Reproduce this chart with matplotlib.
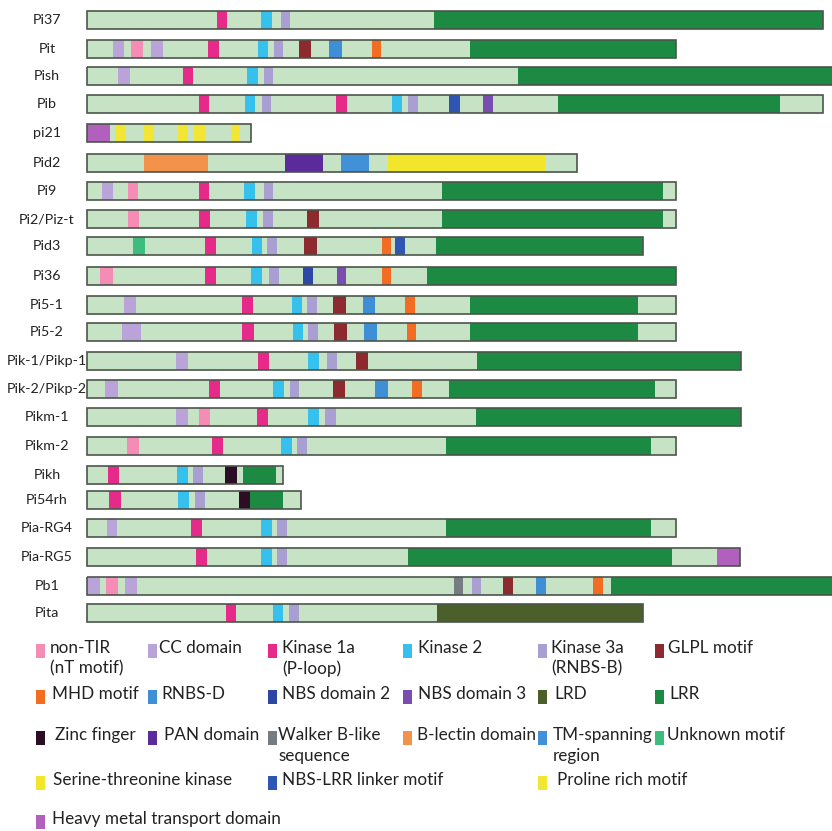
import matplotlib.pyplot as plt
from matplotlib.patches import Rectangle

plt.rcParams['font.family'] = ['Lato', 'DejaVu Sans']

# domain colours
colors = {
    "nT": "#f48cb6", "CC": "#b9a3d8", "K1a": "#e62a8a", "K2": "#36c0ee",
    "K3a": "#a99fd3", "GLPL": "#8c2a30", "MHD": "#f26c22", "RNBSD": "#3f8fd6",
    "NBS2": "#2c47a6", "NBS3": "#7a4db0", "LRD": "#4b5f2b", "LRR": "#1d8a44",
    "ZF": "#2b0d24", "PAN": "#5b2a9b", "WB": "#767d82", "BL": "#f3924a",
    "TM": "#4190d8", "UNK": "#3dbd7d", "STK": "#f2e62c", "LINK": "#2f56b2",
    "PRO": "#f2e533", "HM": "#b160bd",
}

names = ["Pi37", "Pit", "Pish", "Pib", "pi21", "Pid2", "Pi9", "Pi2/Piz-t", "Pid3",
         "Pi36", "Pi5-1", "Pi5-2", "Pik-1/Pikp-1", "Pik-2/Pikp-2", "Pikm-1", "Pikm-2",
         "Pikh", "Pi54rh", "Pia-RG4", "Pia-RG5", "Pb1", "Pita"]
lengths = [823, 676, 845, 823, 251, 577, 676, 676, 643, 676, 676, 676, 741, 676,
           741, 676, 283, 301, 676, 740, 845, 643]
rows_y = [20, 49, 76, 104, 133, 163, 191, 219, 246, 276, 305, 332, 361, 389, 417,
          446, 475, 500, 528, 557, 586, 613]

# (domain, start, end) per protein
features = [
    [("K1a", 217, 227), ("K2", 261, 272), ("K3a", 281, 290), ("LRR", 434, 823)],
    [("CC", 113, 124), ("nT", 131, 143), ("CC", 151, 163), ("K1a", 208, 219),
     ("K2", 258, 268), ("K3a", 274, 283), ("GLPL", 299, 311), ("RNBSD", 329, 342),
     ("MHD", 372, 381), ("LRR", 470, 676)],
    [("CC", 118, 130), ("K1a", 183, 193), ("K2", 247, 258), ("K3a", 264, 273),
     ("LRR", 518, 845)],
    [("K1a", 199, 209), ("K2", 245, 255), ("K3a", 262, 271), ("K1a", 336, 347),
     ("K2", 392, 402), ("K3a", 408, 418), ("LINK", 449, 460), ("NBS3", 483, 493),
     ("LRR", 558, 780)],
    [("HM", 87, 110), ("PRO", 115, 125), ("PRO", 144, 154), ("PRO", 178, 188),
     ("PRO", 194, 205), ("PRO", 231, 240)],
    [("BL", 144, 208), ("PAN", 285, 323), ("TM", 341, 369), ("STK", 388, 545)],
    [("CC", 102, 113), ("nT", 128, 138), ("K1a", 199, 209), ("K2", 244, 255),
     ("K3a", 264, 273), ("LRR", 442, 663)],
    [("nT", 128, 139), ("K1a", 199, 210), ("K2", 246, 257), ("K3a", 263, 273),
     ("GLPL", 307, 319), ("LRR", 442, 663)],
    [("UNK", 133, 145), ("K1a", 205, 216), ("K2", 252, 262), ("K3a", 267, 277),
     ("GLPL", 304, 317), ("MHD", 382, 391), ("LINK", 395, 405), ("LRR", 436, 643)],
    [("nT", 100, 113), ("K1a", 205, 216), ("K2", 251, 262), ("K3a", 269, 279),
     ("NBS2", 303, 313), ("NBS3", 337, 346), ("MHD", 382, 391), ("LRR", 427, 676)],
    [("CC", 124, 136), ("K1a", 242, 253), ("K2", 292, 302), ("K3a", 307, 317),
     ("GLPL", 333, 346), ("RNBSD", 363, 375), ("MHD", 405, 415), ("LRR", 470, 638)],
    [("CC", 122, 141), ("K1a", 242, 254), ("K2", 293, 303), ("K3a", 308, 318),
     ("GLPL", 334, 347), ("RNBSD", 364, 377), ("MHD", 407, 416), ("LRR", 470, 638)],
    [("CC", 176, 188), ("K1a", 258, 269), ("K2", 308, 319), ("K3a", 327, 337),
     ("GLPL", 356, 368), ("LRR", 477, 741)],
    [("CC", 105, 118), ("K1a", 209, 220), ("K2", 273, 284), ("K3a", 290, 299),
     ("GLPL", 333, 345), ("RNBSD", 375, 388), ("MHD", 412, 422), ("LRR", 449, 655)],
    [("CC", 176, 188), ("nT", 199, 210), ("K1a", 257, 268), ("K2", 308, 319),
     ("K3a", 325, 336), ("LRR", 476, 741)],
    [("nT", 127, 139), ("K1a", 212, 223), ("K2", 281, 292), ("K3a", 297, 307),
     ("LRR", 446, 651)],
    [("K1a", 108, 119), ("K2", 177, 188), ("K3a", 193, 203), ("ZF", 225, 237),
     ("LRR", 243, 276)],
    [("K1a", 109, 121), ("K2", 178, 189), ("K3a", 195, 205), ("ZF", 239, 250),
     ("LRR", 250, 283)],
    [("CC", 107, 117), ("K1a", 191, 202), ("K2", 261, 272), ("K3a", 277, 287),
     ("LRR", 446, 651)],
    [("K1a", 196, 207), ("K2", 261, 272), ("K3a", 277, 287), ("LRR", 408, 672),
     ("HM", 717, 740)],
    [("CC", 87, 100), ("nT", 106, 118), ("CC", 125, 137), ("WB", 454, 463),
     ("K3a", 472, 481), ("GLPL", 503, 513), ("RNBSD", 536, 546), ("MHD", 593, 603),
     ("LRR", 611, 845)],
    [("K1a", 226, 236), ("K2", 273, 283), ("K3a", 289, 299), ("LRD", 437, 643)],
]

# legend
leg_labels = ["non-TIR\n(nT motif)", "CC domain", "Kinase 1a\n(P-loop)", "Kinase 2",
              "Kinase 3a\n(RNBS-B)", "GLPL motif",
              "MHD motif", "RNBS-D", "NBS domain 2", "NBS domain 3", "LRD", "LRR",
              "Zinc finger", "PAN domain", "Walker B-like\nsequence", "B-lectin domain",
              "TM-spanning\nregion", "Unknown motif",
              "Serine-threonine kinase", "NBS-LRR linker motif", "Proline rich motif",
              "Heavy metal transport domain"]
leg_keys = ["nT", "CC", "K1a", "K2", "K3a", "GLPL",
            "MHD", "RNBSD", "NBS2", "NBS3", "LRD", "LRR",
            "ZF", "PAN", "WB", "BL", "TM", "UNK",
            "STK", "LINK", "PRO", "HM"]
leg_col = [0, 1, 2, 3, 4, 5, 0, 1, 2, 3, 4, 5, 0, 1, 2, 3, 4, 5, 0, 2, 4, 0]
leg_row = [0] * 6 + [1] * 6 + [2] * 6 + [3] * 3 + [4]
# text gap after the swatch, per entry
leg_gap = [14, 11, 14, 15, 13, 13,
           16, 13, 14, 15, 16, 14,
           19, 16, 10, 14, 15, 12,
           17, 14, 19, 16]

col_x = [36, 148, 268, 403, 538, 655]
row_ly = [651, 697, 738, 783, 822]

fig = plt.figure(figsize=(8.32, 8.31), dpi=100)
ax = fig.add_axes([0, 0, 1, 1])
ax.set_xlim(0, 832)
ax.set_ylim(831, 0)
ax.axis("off")

x0 = 87
h = 18
for name, L, y, feats in zip(names, lengths, rows_y, features):
    ax.add_patch(Rectangle((x0, y - h / 2), L - x0, h, facecolor="#c6e4c5",
                           edgecolor="none", zorder=1))
    for kind, s, e in feats:
        ax.add_patch(Rectangle((s, y - h / 2), e - s, h, facecolor=colors[kind],
                               edgecolor="none", zorder=2))
    ax.add_patch(Rectangle((x0, y - h / 2), L - x0, h, facecolor="none",
                           edgecolor="#4b554b", linewidth=1.2, zorder=3))
    ax.text(47, y, name, ha="center", va="center", fontsize=10.3, color="#222222")

for lab, key, c, r, g in zip(leg_labels, leg_keys, leg_col, leg_row, leg_gap):
    px = col_x[c]
    py = row_ly[r]
    ax.add_patch(Rectangle((px, py - 7), 9, 14, facecolor=colors[key],
                           edgecolor="none"))
    ax.text(px + g, py - 11, lab, ha="left", va="top", fontsize=12.3,
            color="#222222", linespacing=1.35)

fig.savefig("out.png", dpi=100)
